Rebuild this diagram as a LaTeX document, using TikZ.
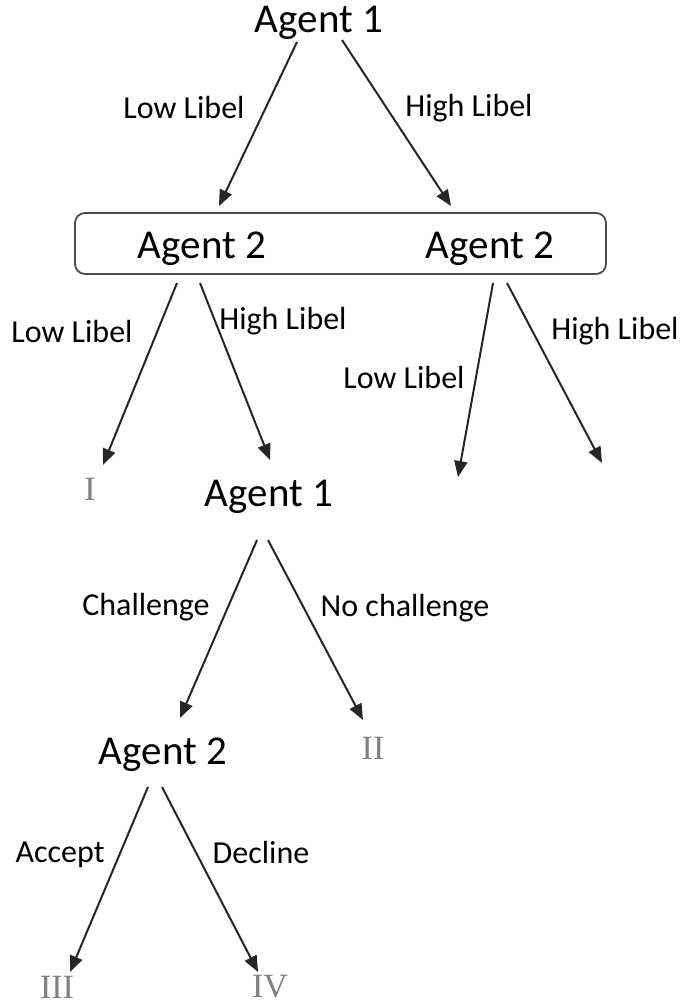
\documentclass[tikz,border=0pt]{standalone}
\usepackage{fontspec}
\setmainfont{Carlito}
\newfontfamily\romfont{Liberation Serif}
\usepackage{tikz}
\usetikzlibrary{arrows.meta}
\usetikzlibrary{calc}
\tikzstyle{agent}=[inner sep=1pt,font=\fontsize{20.5}{23}\selectfont]
\tikzstyle{move}=[inner sep=1pt,font=\fontsize{16}{18}\selectfont]
\tikzstyle{outcome}=[inner sep=1pt,text=black!50,font=\romfont\fontsize{17}{19}\selectfont]
\tikzstyle{edge}=[line width=1pt,draw=black!85,-{Triangle[length=8pt,width=6.5pt]}]

\begin{document}
\begin{tikzpicture}[x=0.5pt,y=-0.5pt]
\useasboundingbox (0,0) rectangle (681,1005);
\draw [line width=0.9pt,draw=black!70,rounded corners=5pt] (75,213) rectangle (606,274);
\node [agent] (a1) at (319,23) {Agent 1};
\node [agent] (a2l) at (202,249) {Agent 2};
\node [agent] (a2r) at (490,249) {Agent 2};
\node [agent] (a1b) at (269,497) {Agent 1};
\node [agent] (a2b) at (163,755) {Agent 2};
\node [outcome] (r1) at (90,489) {I};
\node [outcome] (r2) at (373,748) {II};
\node [outcome] (r3) at (57,987) {III};
\node [outcome] (r4) at (270,987) {IV};
\coordinate (e1) at (458,477);
\coordinate (e2) at (602,463);
% arrows
\draw [edge] ($(a1)+(-22,19)$) -- ($(a2l)+(17,-43)$);
\draw [edge] ($(a1)+(23,17)$) -- ($(a2r)+(-39,-43)$);
\draw [edge] ($(a2l)+(-25,34)$) -- ($(r1)+(13,-24)$);
\draw [edge] ($(a2l)+(-2,34)$) -- ($(a1b)+(1,-37)$);
\draw [edge] ($(a2r)+(3,34)$) -- (e1);
\draw [edge] ($(a2r)+(17,34)$) -- (e2);
\draw [edge] ($(a1b)+(-12,43)$) -- ($(a2b)+(17,-37)$);
\draw [edge] ($(a1b)+(-1,43)$) -- ($(r2)+(-10,-28)$);
\draw [edge] ($(a2b)+(-15,32)$) -- ($(r3)+(13,-15)$);
\draw [edge] ($(a2b)+(-1,32)$) -- ($(r4)+(-12,-15)$);
% labels
\node [move] (m1) at (184,108) {Low Libel};
\node [move] (m2) at (469,108) {High Libel};
\node [move] (m3) at (72,332) {Low Libel};
\node [move] (m4) at (283,321) {High Libel};
\node [move] (m5) at (404,377) {Low Libel};
\node [move] (m6) at (615,331) {High Libel};
\node [move] (m7) at (146,607) {Challenge};
\node [move] (m8) at (405,608) {No challenge};
\node [move] (m9) at (60,855) {Accept};
\node [move] (m10) at (261,852) {Decline};
\end{tikzpicture}
\end{document}
